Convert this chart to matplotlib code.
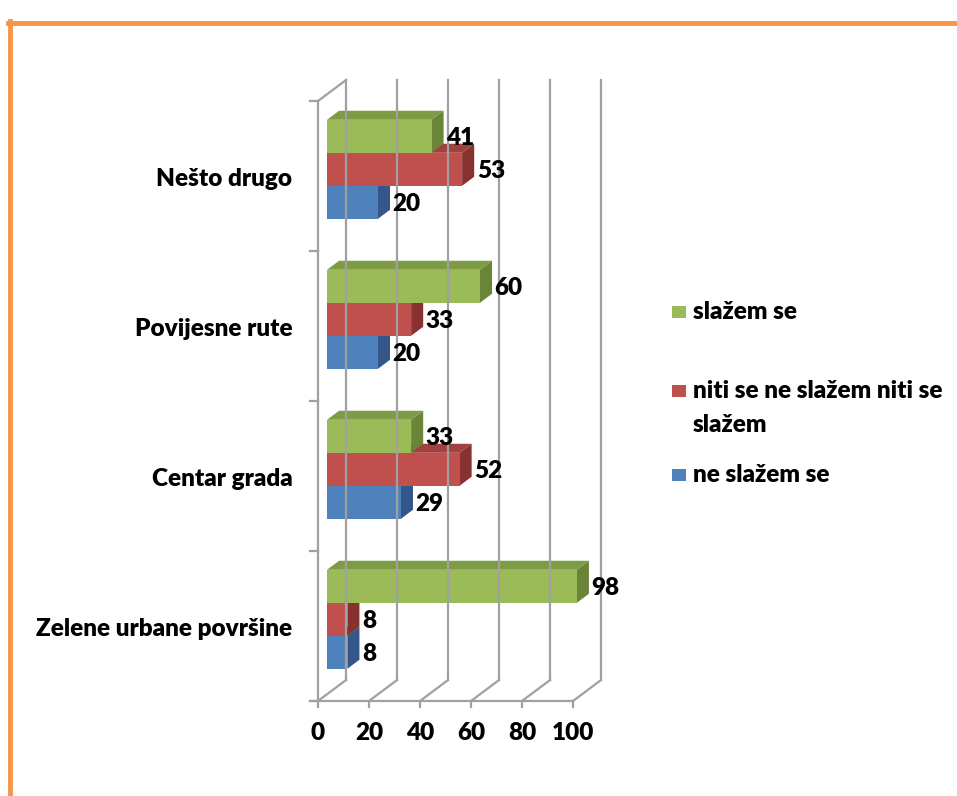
import numpy as np
import matplotlib.pyplot as plt
from matplotlib.patches import Polygon, Rectangle

# podaci
categories = ["Zelene urbane površine", "Centar grada", "Povijesne rute", "Nešto drugo"]
series_names = ["slažem se", "niti se ne slažem niti se", "ne slažem se"]
slazem = [98, 33, 60, 41]
niti = [8, 52, 33, 53]
ne_slazem = [8, 29, 20, 20]
x_ticks = [0, 20, 40, 60, 80, 100]

# boje (prednja strana, gornja strana, bocna strana)
colors = {
    "green": ("#9BBB59", "#7E9C45", "#6A8537"),
    "red": ("#C0504D", "#A1403D", "#883230"),
    "blue": ("#4F81BD", "#3F6A9E", "#33578A"),
}
grid_color = "#A0A0A0"
FONT = "Lato"
FS = 17.5
FW = "heavy"

W, H = 957, 796
fig = plt.figure(figsize=(W / 100, H / 100), dpi=100)

# os: x u jedinicama vrijednosti, y u kategorijama (prednja ravnina)
ax = fig.add_axes([318 / W, (H - 701) / H, 255 / W, 600 / H])
ax.set_xlim(0, 100)
ax.set_ylim(-0.5, 3.5)
ax.axis("off")

DX = 11.0   # dubina u jedinicama x
DY = 0.14   # dubina u jedinicama kategorija
z0, z1 = 0.32, 0.75
bar_h = 0.22
ymin, ymax = -0.5, 3.5

# zadnji zid - mreza
for v in x_ticks:
    ax.plot([v + DX, v + DX], [ymin + DY, ymax + DY], color=grid_color, lw=1.6, clip_on=False)
    ax.plot([v, v + DX], [ymin, ymin + DY], color=grid_color, lw=1.6, clip_on=False)
    ax.plot([v, v], [ymin, ymin - 0.04], color=grid_color, lw=1.6, clip_on=False)
# lijevi zid
ax.plot([0, 0], [ymin, ymax], color=grid_color, lw=1.6, clip_on=False)
ax.plot([0, DX], [ymax, ymax + DY], color=grid_color, lw=1.6, clip_on=False)
for yb in np.arange(ymin, ymax + 0.01, 1.0):
    ax.plot([-3, 0], [yb, yb], color=grid_color, lw=1.6, clip_on=False)
# prednji rub poda
ax.plot([-3, 100], [ymin, ymin], color=grid_color, lw=1.6, clip_on=False)


def bar3d(v, yc, key):
    front, top, side = colors[key]
    x0 = z0 * DX
    y0 = yc - bar_h / 2 + z0 * DY
    y1 = y0 + bar_h
    ddx = (z1 - z0) * DX
    ddy = (z1 - z0) * DY
    ax.add_patch(Polygon([(x0, y1), (x0 + v, y1), (x0 + v + ddx, y1 + ddy), (x0 + ddx, y1 + ddy)],
                         closed=True, fc=top, ec="none", clip_on=False))
    ax.add_patch(Polygon([(x0 + v, y0), (x0 + v + ddx, y0 + ddy), (x0 + v + ddx, y1 + ddy), (x0 + v, y1)],
                         closed=True, fc=side, ec="none", clip_on=False))
    ax.add_patch(Rectangle((x0, y0), v, bar_h, fc=front, ec="none", clip_on=False))
    ax.text(x0 + v + ddx + 1.0, (y0 + y1) / 2 - 0.01, str(v), ha="left", va="center",
            fontsize=FS, fontweight=FW, family=FONT, clip_on=False)


for i, cat in enumerate(categories):
    bar3d(ne_slazem[i], i - bar_h, "blue")
    bar3d(niti[i], i, "red")
    bar3d(slazem[i], i + bar_h, "green")
    ax.text(-10, i - 0.02, cat, ha="right", va="center", fontsize=FS,
            fontweight=FW, family=FONT)

for v in x_ticks:
    ax.text(v, ymin - 0.21, str(v), ha="center", va="center", fontsize=FS,
            fontweight=FW, family=FONT)

# legenda
leg_keys = ["green", "red", "blue"]
leg_y = [312, 391, 475]
for key, yc, name in zip(leg_keys, leg_y, series_names):
    fig.patches.append(Rectangle((672 / W, 1 - (yc + 6) / H), 14 / W, 12 / H,
                                 transform=fig.transFigure, fc=colors[key][0], ec="none"))
    fig.text(693 / W, 1 - yc / H, name, ha="left", va="center",
             fontsize=FS, fontweight=FW, family=FONT)
fig.text(693 / W, 1 - 425 / H, "slažem", ha="left", va="center",
         fontsize=FS, fontweight=FW, family=FONT)

# narancasti okvir
fig.add_artist(plt.Line2D([10 / W, 10 / W], [0, 1 - 21 / H], color="#F79646", lw=3.5))
fig.add_artist(plt.Line2D([8 / W, 1], [1 - 23 / H, 1 - 23 / H], color="#F79646", lw=3.5))

fig.savefig("out.png", dpi=100)
